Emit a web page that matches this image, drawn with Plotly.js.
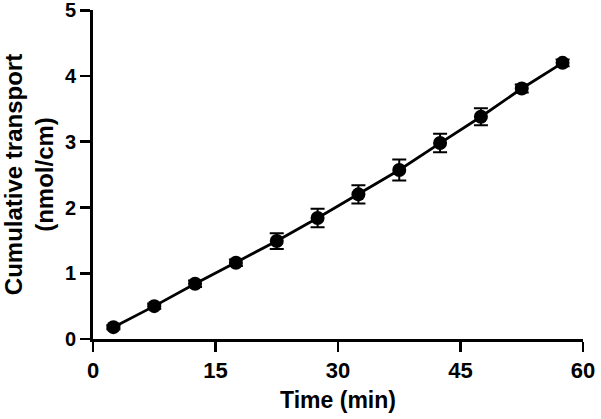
<!DOCTYPE html>
<html>
<head>
<meta charset="utf-8">
<script src="https://cdn.plot.ly/plotly-3.0.1.min.js"></script>
<style>html,body{margin:0;padding:0;background:#fff;}#chart{width:601px;height:419px;}</style>
</head>
<body>
<div id="chart"></div>
<script>
const timeMin = [2.5, 7.5, 12.5, 17.5, 22.5, 27.5, 32.5, 37.5, 42.5, 47.5, 52.5, 57.5];
const transport = [0.18, 0.50, 0.84, 1.16, 1.49, 1.84, 2.20, 2.57, 2.98, 3.38, 3.81, 4.20];
const errorSEM = [0.03, 0.04, 0.05, 0.05, 0.12, 0.14, 0.14, 0.16, 0.14, 0.13, 0.06, 0.05];
const xTicks = [0, 15, 30, 45, 60];
const yTicks = [0, 1, 2, 3, 4, 5];

const fontFam = 'Arial, "Liberation Sans", Helvetica, sans-serif';

const trace = {
  x: timeMin,
  y: transport,
  type: 'scatter',
  mode: 'lines+markers',
  line: {color: '#000', width: 2.8},
  marker: {color: '#000', size: 14},
  error_y: {type: 'data', array: errorSEM, visible: true, color: '#000', thickness: 2, width: 7},
  showlegend: false,
  cliponaxis: false
};

const layout = {
  width: 601, height: 419,
  margin: {l: 93, r: 18, t: 10, b: 80},
  paper_bgcolor: '#fff', plot_bgcolor: '#fff',
  font: {family: fontFam, color: '#000', weight: 'bold'},
  xaxis: {
    range: [0, 60], tickvals: xTicks, ticktext: xTicks.map(String),
    showgrid: false, zeroline: false, showline: true, linecolor: '#000', linewidth: 2.8,
    ticks: 'outside', ticklen: 10, tickwidth: 2.8, tickcolor: '#000',
    ticklabeloverflow: 'allow',
    tickfont: {family: fontFam, size: 22, color: '#000', weight: 'bold'},
    title: {text: 'Time (min)', font: {family: fontFam, size: 23, color: '#000', weight: 'bold'}, standoff: 10}
  },
  yaxis: {
    range: [0, 5.004], tickmode: 'array', tickvals: yTicks, ticktext: yTicks.map(String),
    showgrid: false, zeroline: false, showline: true, linecolor: '#000', linewidth: 2.8,
    ticks: 'outside', ticklen: 10, tickwidth: 2.8, tickcolor: '#000',
    ticklabeloverflow: 'allow',
    tickfont: {family: fontFam, size: 20, color: '#000', weight: 'bold'},
    title: {text: 'Cumulative transport<br>(nmol/cm)', font: {family: fontFam, size: 24, color: '#000', weight: 'bold'}, standoff: 10}
  }
};

Plotly.newPlot('chart', [trace], layout, {displayModeBar: false, staticPlot: true});
</script>
</body>
</html>
